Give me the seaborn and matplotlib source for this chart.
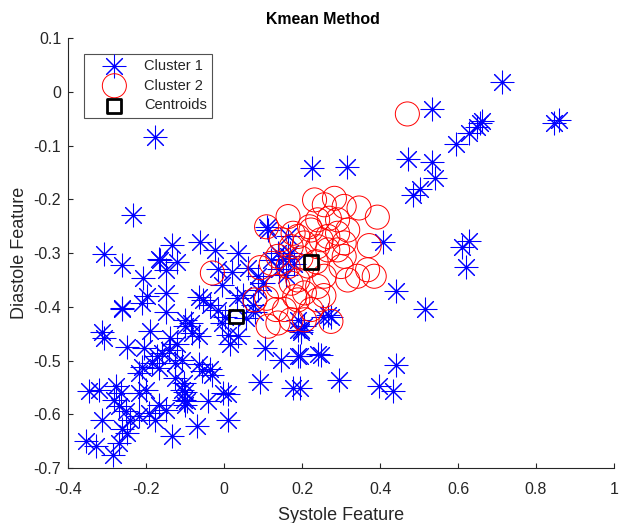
import matplotlib
matplotlib.use("Agg")
import matplotlib.pyplot as plt
import seaborn as sns
import pandas as pd

# ---------------- data ----------------
cluster1_x = [0.712, 0.534, 0.847, 0.860, 0.656, 0.661, 0.648, 0.627, 0.595, 0.472,
              0.534, 0.540, 0.502, 0.485, 0.226, 0.314, 0.408, 0.627, 0.610, 0.621,
              0.440, 0.515, 0.253, 0.266, 0.274, 0.198, 0.242, 0.194, 0.294, 0.440,
              0.396, 0.434, 0.194, 0.111, 0.113, 0.164, 0.189, 0.206, 0.104, 0.147,
              0.189, 0.249, 0.092, 0.177,
              -0.178, -0.234, -0.309, -0.263, -0.134, -0.061, -0.023, 0.036, -0.167, -0.121,
              -0.150, -0.207, -0.197, -0.262, -0.150, -0.150, -0.065, -0.053, -0.015, 0.062,
              0.087, 0.100, -0.036, -0.015, 0.003, -0.006, 0.032, 0.049, 0.011, 0.015,
              0.036, -0.099, -0.083, -0.065, -0.312, -0.308, -0.248, -0.206, -0.172, -0.159,
              -0.142, -0.184, -0.167, -0.210, -0.218, -0.125, -0.108, -0.057, -0.032, -0.346,
              -0.320, -0.278, -0.265, -0.282, -0.269, -0.252, -0.240, -0.218, -0.261, -0.248,
              -0.312, -0.176, -0.108, -0.104, -0.099, -0.134, -0.070, -0.040, 0.011, 0.011,
              -0.354, -0.329, -0.286, -0.269, -0.167, -0.150, -0.193, -0.218, -0.201, 0.075,
              0.087, -0.211, -0.138, -0.099, -0.125, -0.104, -0.099, -0.095, -0.065, -0.036,
              -0.002, 0.079, 0.189, 0.198, 0.121, 0.138, 0.164, 0.150, 0.170, 0.140,
              0.160, 0.180, -0.164, -0.262, -0.120, 0.020, 0.055, -0.085, -0.005, -0.190]
cluster1_y = [0.018, -0.032, -0.058, -0.052, -0.058, -0.055, -0.065, -0.077, -0.096, -0.125,
              -0.130, -0.161, -0.181, -0.192, -0.141, -0.139, -0.280, -0.278, -0.288, -0.325,
              -0.371, -0.404, -0.418, -0.415, -0.418, -0.443, -0.488, -0.492, -0.537, -0.509,
              -0.547, -0.557, -0.551, -0.251, -0.257, -0.269, -0.443, -0.436, -0.477, -0.498,
              -0.492, -0.489, -0.539, -0.551,
              -0.083, -0.229, -0.301, -0.323, -0.285, -0.280, -0.295, -0.300, -0.311, -0.317,
              -0.331, -0.346, -0.379, -0.404, -0.409, -0.374, -0.381, -0.387, -0.330, -0.328,
              -0.343, -0.356, -0.396, -0.405, -0.418, -0.430, -0.384, -0.378, -0.452, -0.470,
              -0.455, -0.424, -0.449, -0.455, -0.446, -0.458, -0.474, -0.477, -0.492, -0.486,
              -0.480, -0.504, -0.514, -0.511, -0.523, -0.504, -0.498, -0.520, -0.526, -0.557,
              -0.554, -0.548, -0.560, -0.573, -0.585, -0.594, -0.610, -0.604, -0.628, -0.635,
              -0.610, -0.610, -0.554, -0.573, -0.582, -0.641, -0.622, -0.576, -0.563, -0.610,
              -0.650, -0.659, -0.675, -0.653, -0.582, -0.591, -0.597, -0.560, -0.554, -0.396,
              -0.368, -0.393, -0.458, -0.436, -0.532, -0.541, -0.559, -0.575, -0.506, -0.516,
              -0.560, -0.409, -0.424, -0.446, -0.312, -0.300, -0.306, -0.310, -0.300, -0.330,
              -0.340, -0.320, -0.312, -0.402, -0.470, -0.335, -0.420, -0.430, -0.360, -0.445]

cluster2_x = [0.470, -0.030, 0.079, 0.109, 0.164, 0.232, 0.257, 0.283, 0.177, 0.223,
              0.249, 0.206, 0.147, 0.121, 0.138, 0.172, 0.164, 0.189, 0.138, 0.113,
              0.138, 0.172, 0.206, 0.155, 0.223, 0.240, 0.257, 0.240, 0.266, 0.346,
              0.393, 0.317, 0.372, 0.308, 0.385, 0.368, 0.342, 0.317, 0.300, 0.274,
              0.240, 0.206, 0.109, 0.181, 0.172, 0.291, 0.266, 0.291, 0.308, 0.308,
              0.270, 0.291, 0.240, 0.219, 0.189, 0.236, 0.197, 0.092, 0.215, 0.189,
              0.256, 0.133]
cluster2_y = [-0.041, -0.337, -0.387, -0.251, -0.232, -0.201, -0.210, -0.198, -0.263, -0.257,
              -0.275, -0.281, -0.275, -0.319, -0.306, -0.288, -0.325, -0.350, -0.362, -0.436,
              -0.430, -0.424, -0.424, -0.405, -0.405, -0.362, -0.343, -0.288, -0.269, -0.216,
              -0.233, -0.257, -0.286, -0.306, -0.343, -0.331, -0.343, -0.350, -0.325, -0.427,
              -0.387, -0.374, -0.384, -0.381, -0.356, -0.263, -0.294, -0.294, -0.281, -0.213,
              -0.235, -0.238, -0.238, -0.251, -0.269, -0.316, -0.309, -0.327, -0.324, -0.387,
              -0.379, -0.405]

centroid_x = [0.030, 0.223]
centroid_y = [-0.418, -0.317]

x_ticks = [-0.4, -0.2, 0, 0.2, 0.4, 0.6, 0.8, 1]
x_tick_labels = ["-0.4", "-0.2", "0", "0.2", "0.4", "0.6", "0.8", "1"]
y_ticks = [-0.7, -0.6, -0.5, -0.4, -0.3, -0.2, -0.1, 0, 0.1]
y_tick_labels = ["-0.7", "-0.6", "-0.5", "-0.4", "-0.3", "-0.2", "-0.1", "0", "0.1"]

title = "Kmean Method"
x_label = "Systole Feature"
y_label = "Diastole Feature"
legend_labels = ["Cluster 1", "Cluster 2", "Centroids"]

# ---------------- style ----------------
sns.set_style("white")
plt.rcParams["font.family"] = ["Liberation Sans", "DejaVu Sans"]
axis_color = "#262626"

fig = plt.figure(figsize=(6.19, 5.23), dpi=100)
ax = fig.add_axes([0.110, 0.105, 0.882, 0.822])

df1 = pd.DataFrame({"x": cluster1_x, "y": cluster1_y})
df2 = pd.DataFrame({"x": cluster2_x, "y": cluster2_y})
dfc = pd.DataFrame({"x": centroid_x, "y": centroid_y})

sns.scatterplot(data=df1, x="x", y="y", ax=ax, marker=(8, 2, 0), s=270,
                color="#0000ff", edgecolor="#0000ff", linewidth=0.75,
                label=legend_labels[0], zorder=2)
sns.scatterplot(data=df2, x="x", y="y", ax=ax, marker="o", s=300,
                color="#ff0000", facecolors="none", edgecolor="#ff0000",
                linewidth=0.7, label=legend_labels[1], zorder=3)
sns.scatterplot(data=dfc, x="x", y="y", ax=ax, marker="s", s=100,
                color="black", facecolors="none", edgecolor="black",
                linewidth=2.0, label=legend_labels[2], zorder=4)

ax.set_xlim(-0.4, 1.0)
ax.set_ylim(-0.7, 0.1)
ax.set_xticks(x_ticks)
ax.set_xticklabels(x_tick_labels)
ax.set_yticks(y_ticks)
ax.set_yticklabels(y_tick_labels)

for side in ["top", "right"]:
    ax.spines[side].set_visible(False)
for side in ["left", "bottom"]:
    ax.spines[side].set_color(axis_color)
    ax.spines[side].set_linewidth(0.8)

ax.tick_params(axis="both", direction="in", length=3.5, width=0.8,
               colors=axis_color, labelsize=11.5, bottom=True, left=True)
ax.tick_params(axis="x", pad=10)
ax.tick_params(axis="y", pad=5)

ax.set_title(title, fontsize=11.4, fontweight="bold", color="black",
             pad=10, x=0.467)
ax.set_xlabel(x_label, fontsize=13, color=axis_color, labelpad=7)
ax.set_ylabel(y_label, fontsize=13, color=axis_color, labelpad=4)

leg = ax.legend(loc="upper left", bbox_to_anchor=(0.030, 0.964),
                borderaxespad=0, frameon=True, fancybox=False,
                fontsize=10.5, handletextpad=0.36, borderpad=0.35,
                labelspacing=0.4, handlelength=3.4)
leg.get_frame().set_edgecolor(axis_color)
leg.get_frame().set_linewidth(0.8)

fig.savefig("out.png", dpi=100)
